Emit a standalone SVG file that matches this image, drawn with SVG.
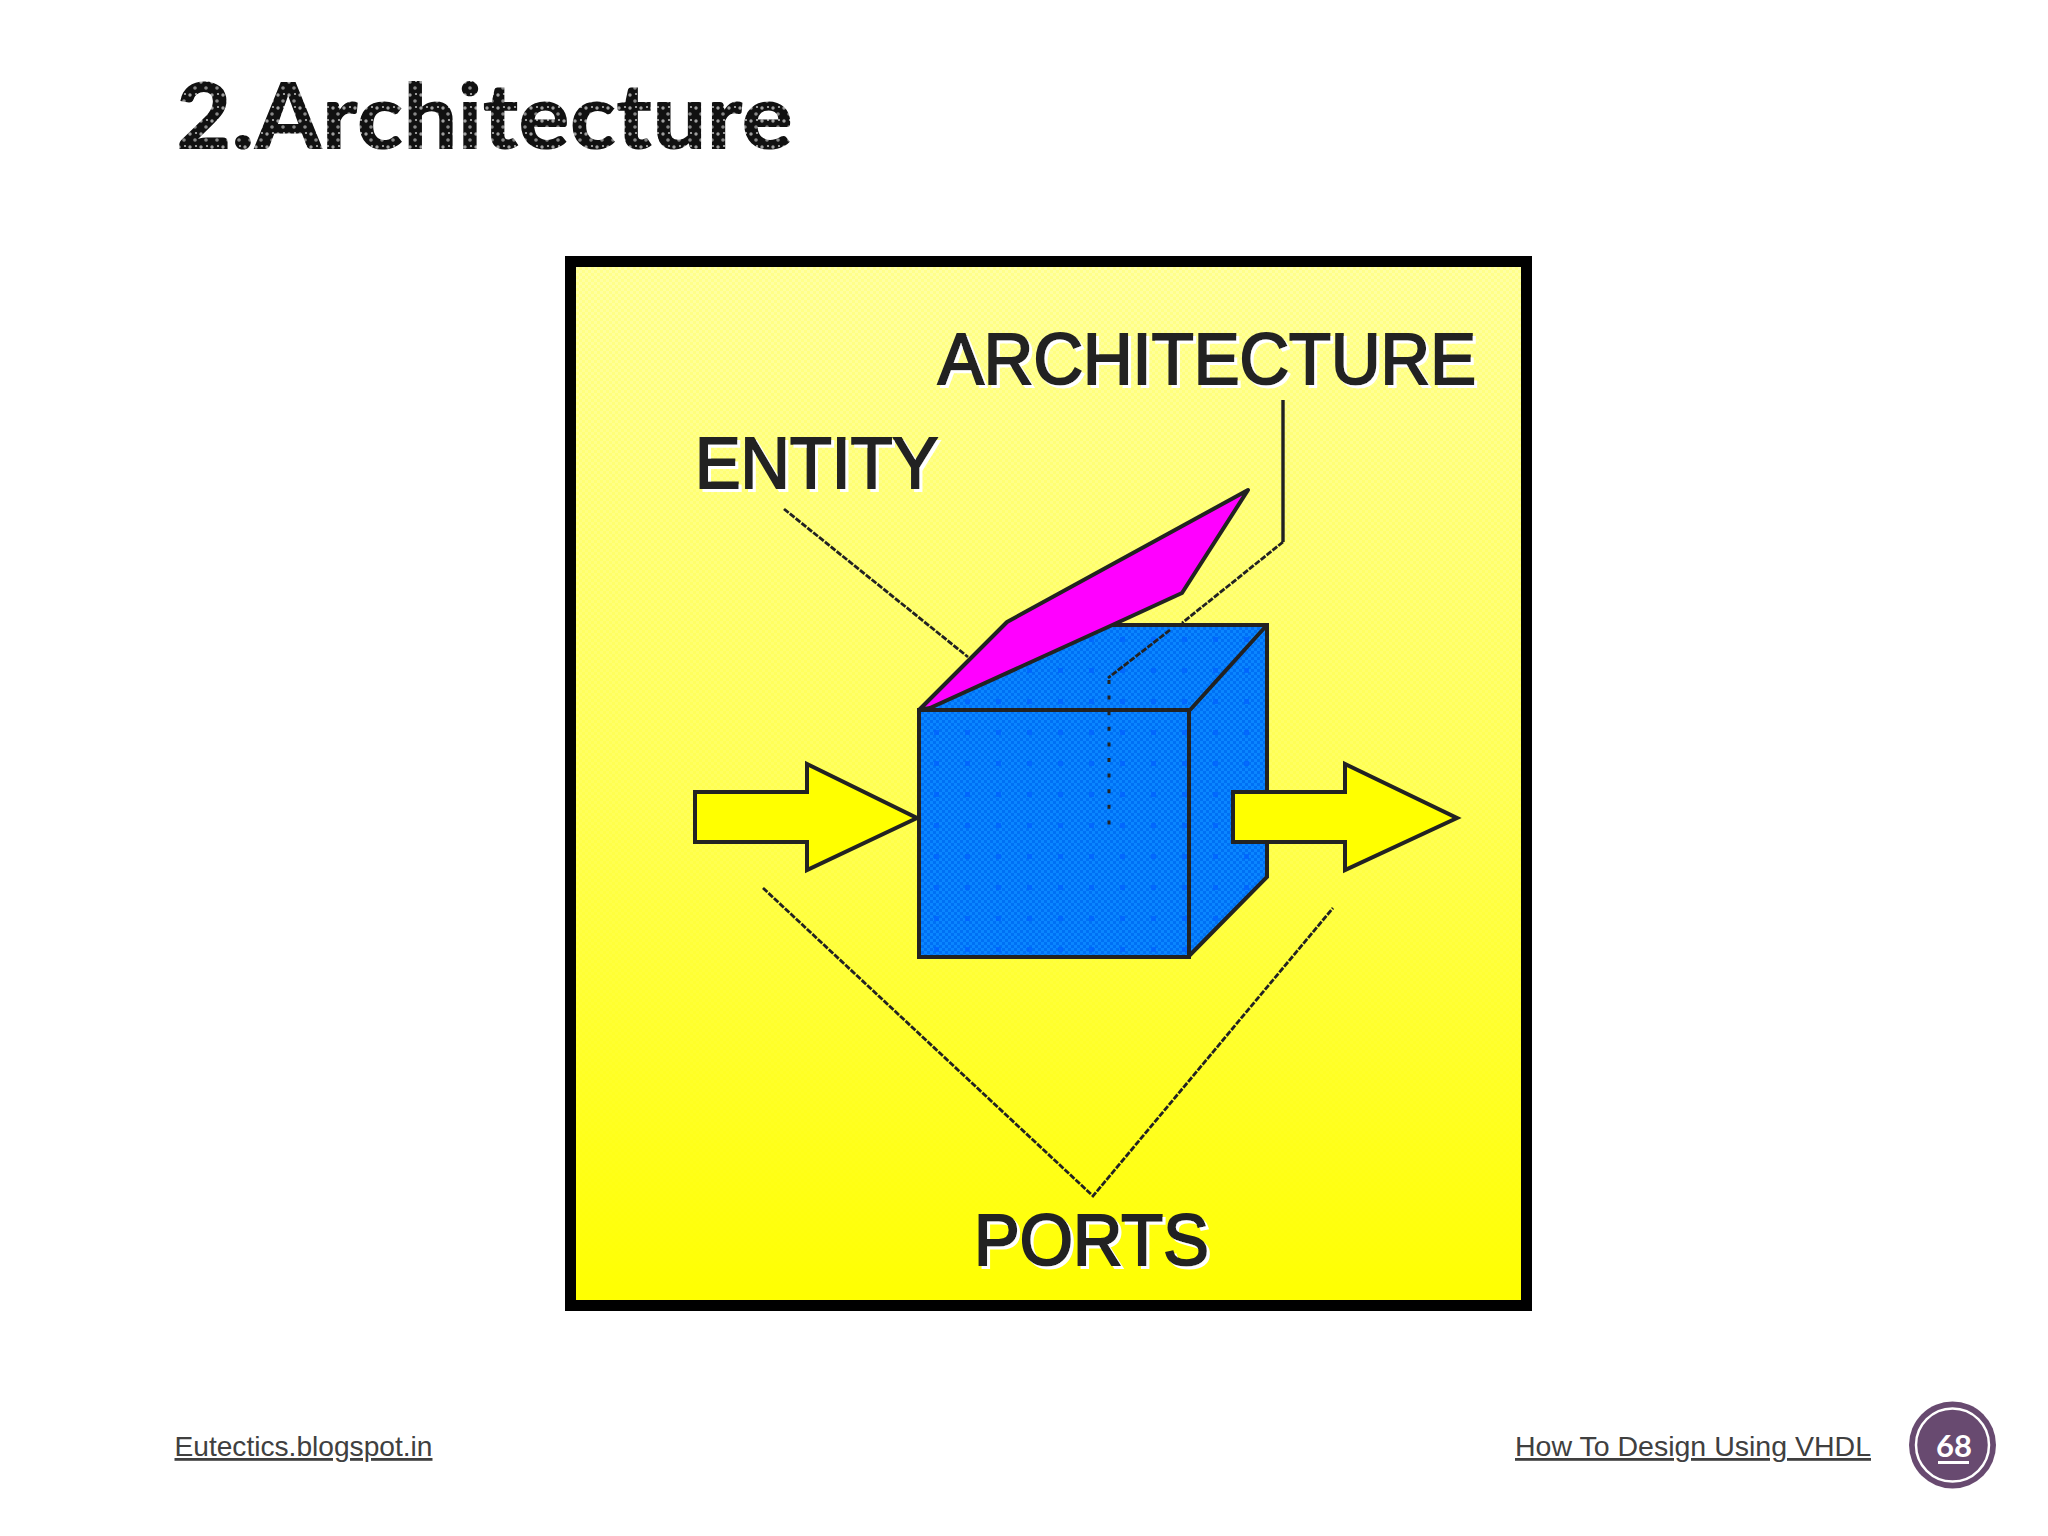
<svg xmlns="http://www.w3.org/2000/svg" width="2048" height="1536" viewBox="0 0 2048 1536">
<defs>
<linearGradient id="bg" x1="0" y1="0" x2="0" y2="1"><stop offset="0" stop-color="#ffffa6"/><stop offset="0.5" stop-color="#ffff60"/><stop offset="1" stop-color="#ffff00"/></linearGradient>
<pattern id="dither" width="6" height="6" patternUnits="userSpaceOnUse"><rect x="0" y="0" width="3" height="3" fill="#ffff00" fill-opacity="0.16"/><rect x="3" y="3" width="3" height="3" fill="#ffff00" fill-opacity="0.16"/></pattern>
<pattern id="blue" width="6" height="6" patternUnits="userSpaceOnUse"><rect width="6" height="6" fill="#0a86ff"/><rect x="0" y="0" width="3" height="3" fill="#0070f4"/><rect x="3" y="3" width="3" height="3" fill="#0070f4"/></pattern>
<pattern id="dots" x="934" y="730" width="31" height="31" patternUnits="userSpaceOnUse"><rect x="0" y="0" width="5" height="5" fill="#0060ff" fill-opacity="0.7"/></pattern>
<pattern id="speck" width="11" height="13" patternUnits="userSpaceOnUse"><rect width="11" height="13" fill="#111"/><circle cx="3" cy="4" r="1.700" fill="#a0a0a0"/><circle cx="8" cy="10" r="1.800" fill="#888"/><circle cx="9" cy="3" r="1.100" fill="#bbb"/></pattern>
<filter id="whiteShadow" x="-5%" y="-10%" width="110%" height="125%"><feOffset in="SourceAlpha" dx="3" dy="3" result="o"/><feFlood flood-color="#ffffff"/><feComposite in2="o" operator="in" result="s"/><feMerge><feMergeNode in="s"/><feMergeNode in="SourceGraphic"/></feMerge></filter>
</defs>
<style>
.lbl{font-family:"Liberation Sans",Arial,sans-serif;font-weight:400;font-size:72px;fill:#222;stroke:#222;stroke-width:2.200;filter:url(#whiteShadow)}
.foot{font-family:"Liberation Sans",Arial,sans-serif;font-size:28px;fill:#404040;text-decoration:underline}
.ln{fill:none;stroke:#222;stroke-width:2.800;stroke-dasharray:6 1.500}
.edge{stroke:#222;stroke-width:4;stroke-linejoin:miter}
.arrow{fill:#ffff00;stroke:#222;stroke-width:4}
</style>
<rect width="2048" height="1536" fill="#ffffff"/>
<text id="title" x="176" y="149" font-family="Lato,'Liberation Sans',Arial,sans-serif" font-weight="900" font-size="92" fill="url(#speck)" textLength="617" lengthAdjust="spacingAndGlyphs">2.Architecture</text>
<g id="frame">
<rect x="570.500" y="261.500" width="956" height="1044" fill="url(#bg)" stroke="#000" stroke-width="11"/>
<rect x="576" y="267" width="945" height="1033" fill="url(#dither)"/>
</g>
<g id="entity-body">
<polygon points="919,710 1007,622 1108,625 1267,625 1267,877 1190,957 919,957" fill="url(#blue)"/>
<polygon points="919,710 1007,622 1108,625 1267,625 1267,877 1190,957 919,957" fill="url(#dots)"/>
<path class="edge" fill="none" d="M1108,625H1267V877L1188,957M1190,710L1267,625"/>
<rect class="edge" x="919" y="710" width="270" height="247" fill="url(#blue)"/>
<rect x="921" y="712" width="266" height="243" fill="url(#dots)"/>
</g>
<g id="architecture-panel">
<polygon points="919,710 1007,622 1248,490 1182,593 1108,627 930,708" fill="#ff00ff" stroke="#222" stroke-width="4" stroke-linejoin="round"/>
</g>
<g id="port-in"><polygon class="arrow" points="695,792 807,792 807,764 917,818 807,870 807,842 695,842"/></g>
<g id="port-out"><polygon class="arrow" points="1233,792 1345,792 1345,764 1457,818 1345,870 1345,842 1233,842"/></g>
<g id="connectors">
<polyline class="ln" points="784,509 968,657"/>
<polyline class="ln" style="stroke-dasharray:none;stroke-width:3.400" points="1283,400 1283,542"/>
<polyline class="ln" points="1283,542 1182,623"/>
<polyline class="ln" points="1170,630 1108,678"/>
<line x1="1109" y1="680" x2="1109" y2="830" stroke="#222" stroke-width="3" stroke-dasharray="4 11.600"/>
<polyline class="ln" points="763,888 1093,1196 1333,908"/>
</g>
<g id="label-architecture"><text class="lbl" x="938" y="384" textLength="538" lengthAdjust="spacingAndGlyphs">ARCHITECTURE</text></g>
<g id="label-entity"><text class="lbl" x="695" y="488" textLength="243" lengthAdjust="spacingAndGlyphs">ENTITY</text></g>
<g id="label-ports"><text class="lbl" x="974" y="1265" textLength="235" lengthAdjust="spacingAndGlyphs">PORTS</text></g>
<g id="footer-left"><text class="foot" x="174.500" y="1456" textLength="258" lengthAdjust="spacingAndGlyphs">Eutectics.blogspot.in</text></g>
<g id="footer-right"><text class="foot" x="1515" y="1456" textLength="356" lengthAdjust="spacingAndGlyphs">How To Design Using VHDL</text></g>
<g id="page-badge">
<circle cx="1952.500" cy="1445" r="43.500" fill="#684a70"/>
<circle cx="1952.500" cy="1445" r="36.500" fill="none" stroke="#fff" stroke-width="2.500"/>
<text x="1954" y="1457" text-anchor="middle" font-family="Lato,'Liberation Sans',Arial,sans-serif" font-weight="700" font-size="31" fill="#fff">68</text>
<rect x="1938" y="1461" width="31" height="3" fill="#fff"/>
</g>
</svg>
